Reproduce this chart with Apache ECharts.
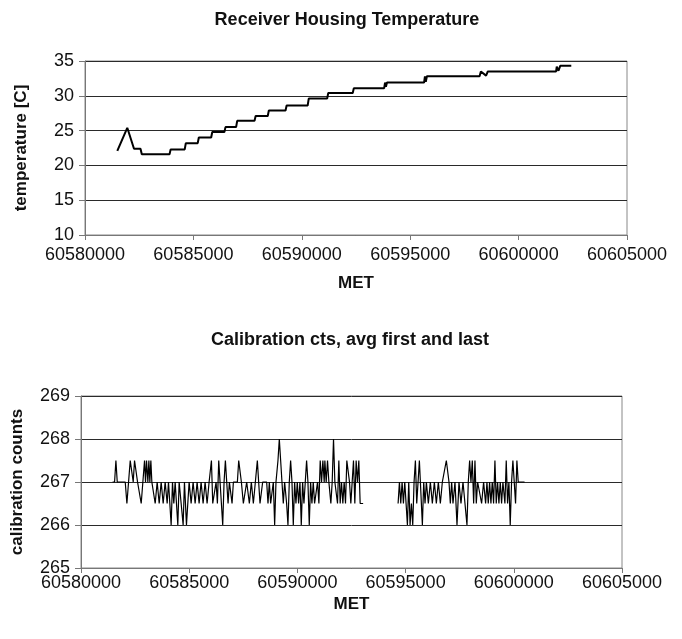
<!DOCTYPE html>
<html>
<head>
<meta charset="utf-8">
<script src="https://cdn.jsdelivr.net/npm/echarts@6/dist/echarts.min.js"></script>
<style>
html,body{margin:0;padding:0;background:#fff;}
#chart{width:682px;height:639px;}
</style>
</head>
<body>
<div id="chart"></div>
<script>
// ---- Data ----
var xTicks = [60580000, 60585000, 60590000, 60595000, 60600000, 60605000];
var tempTicks = [10, 15, 20, 25, 30, 35];
var calTicks = [265, 266, 267, 268, 269];

// Receiver housing temperature: MET, temperature [C]
var tempTime = [60581490,60581950,60582260,60582560,60582620,60583900,60583950,60584600,60584650,60585200,
  60585250,60585820,60585870,60586430,60586480,60586970,60587020,60587820,60587870,60588430,
  60588480,60589250,60589300,60590270,60590320,60591170,60591220,60592350,60592400,60593800,
  60593840,60593880,60593930,60595640,60595680,60595720,60595770,60598200,60598260,60598500,
  60598580,60601730,60601760,60601840,60601920,60602430];
var tempVal = [22.1,25.4,22.4,22.4,21.6,21.6,22.3,22.3,23.2,23.2,
  24.0,24.0,24.8,24.8,25.5,25.5,26.4,26.4,27.1,27.1,
  27.9,27.9,28.6,28.6,29.6,29.6,30.4,30.4,31.1,31.1,
  31.9,31.3,31.9,31.9,32.8,32.0,32.8,32.8,33.5,32.9,
  33.5,33.5,34.2,33.6,34.3,34.3];

// Calibration counts, first segment
var calTime1 = [60581459,60581552,60581613,60581675,60582044,60582121,60582198,60582275,60582351,60582413,
  60582474,60582551,60582613,60582705,60582782,60582859,60582936,60582982,60583028,60583090,
  60583136,60583182,60583228,60583274,60583351,60583428,60583520,60583613,60583705,60583797,
  60583889,60583982,60584043,60584105,60584166,60584228,60584289,60584351,60584412,60584474,
  60584535,60584628,60584720,60584781,60584874,60584935,60584997,60585089,60585181,60585274,
  60585366,60585458,60585550,60585643,60585735,60585827,60585920,
  60586027,60586088,60586180,60586242,60586303,60586365,60586426,60586488,60586549,60586611,
  60586672,60586734,60586796,60586857,60586919,60586980,60587042,60587134,60587226,60587288,
  60587349,60587411,60587503,60587595,60587657,60587718,60587780,60587872,60587965,60588057,
  60588149,60588210,60588272,60588349,60588395,60588487,60588580,60588641,60588703,60588764,
  60588826,60588887,60588949,60589010,60589102,60589164,60589226,60589287,60589349,60589410,
  60589502,60589564,60589625,60589687,60589749,60589810,60589872,60589933,60589995,60590056,
  60590118,60590179,60590241,60590302,60590364,60590425,60590487,60590548,60590610,60590671,
  60590733,60590794,
  60590870,60590931,60590993,60591054,60591116,60591177,60591239,60591269,60591331,60591392,
  60591454,60591546,60591608,60591669,60591731,60591792,60591854,60591915,60591977,60592038,
  60592100,60592161,60592223,60592284,60592346,60592408,60592469,60592531,60592592,60592654,
  60592715,60592777,60592838,60592900,60592961,60593038];
var calVal1 = [267,267,267.5,267,267,266.5,267,267.5,267.5,267,
  267.5,267.5,267,267,266.5,267,267.5,267,267.5,267,
  267.5,267,267.5,267,267,266.5,267,266.5,267,266.5,
  267,266.5,267,266.5,266,267,266.5,267,266.5,266,
  267,266.5,266,267,266,266.5,267,266.5,267,266.5,
  267,266.5,267,266.5,267,266.5,267,
  267.5,266.5,266.5,267,266.5,267.5,267,266.5,266,267,
  267.5,267,266.5,267,267,266.5,267,267,267,267.5,
  267.5,267,266.5,266.5,267,267,266.5,267,266.5,267,
  267.5,267,266.5,266.5,267,267,267,266.5,267,266.5,
  266.5,267,266,267,267.5,268,267.5,267,266.5,267,
  266.5,266,267,267.5,267,266,267,266.5,267,266.5,
  267,266,267,266.5,267,267.5,267,266,267,266.5,
  267,266.5,
  266.5,267,266.5,267.5,267,267.5,267,267.5,267,267.5,
  267,266.5,267,268,267,267,266.5,267.5,266.5,267,
  266.5,267,266.5,267.5,267.5,267,266.5,267,267.5,266.5,
  267.5,267,267.5,266.5,266.5,266.5];

// Calibration counts, second segment
var calTime2 = [60594653,60594715,60594776,60594838,60594899,60594961,60595022,60595084,60595145,60595207,
  60595268,60595330,60595391,60595453,60595514,60595576,60595637,
  60595775,60595837,60595898,60595960,60596052,60596144,60596236,60596329,60596421,60596513,
  60596606,60596698,60596790,60596882,60596944,60597005,60597067,60597128,60597190,60597282,
  60597375,60597467,60597559,60597652,60597744,60597836,60597897,60597959,60598020,60598082,
  60598144,60598205,60598267,60598328,60598420,60598513,60598605,60598697,60598759,60598820,
  60598882,60598943,60599005,60599066,60599128,60599189,60599251,60599312,60599374,60599436,
  60599497,60599589,60599651,60599712,60599774,60599835,60599897,60599958,60600020,60600081,
  60600143,60600204,60600266,60600497];
var calVal2 = [266.5,267,266.5,267,266.5,267,266.5,266,267,266,
  266.5,266,267,267.5,266.5,267,267.5,
  266,267,266.5,267,266.5,267,266.5,267,266.5,267,
  266.5,267,267,267.5,267.5,267,266.5,267,266.5,267,
  266,267,266.5,267,266.5,266,267,267.5,267,267.5,
  266.5,267.5,266.5,267,267,266.5,267,266.5,267,266.5,
  267,266.5,267,266.5,267.5,266.5,267,266.5,267,266.5,
  267,266.5,267.5,266.5,267,266,267,267.5,267,266.5,
  267.5,267,267,267];

function zip(a, b) { var r = []; for (var i = 0; i < a.length; i++) r.push([a[i], b[i]]); return r; }

var FONT = '"Liberation Sans", Arial, sans-serif';
var gridLine = { show: true, lineStyle: { color: '#2a2a2a', width: 1 } };

function xAxisCfg(gridIndex, nameGap, margin) {
  return {
    type: 'value', gridIndex: gridIndex,
    min: xTicks[0], max: xTicks[xTicks.length - 1], interval: xTicks[1] - xTicks[0],
    name: 'MET', nameLocation: 'middle', nameGap: nameGap,
    nameTextStyle: { fontFamily: FONT, fontSize: 17, fontWeight: 'bold', color: '#111' },
    axisLine: { show: true, onZero: false, lineStyle: { color: '#777', width: 1 } },
    axisTick: { show: true, inside: false, length: 5, lineStyle: { color: '#777' } },
    axisLabel: { fontFamily: FONT, fontSize: 18, color: '#111', margin: margin, formatter: function (v) { return String(v); } },
    splitLine: { show: false }
  };
}

function yAxisCfg(gridIndex, ticks, step, name) {
  return {
    type: 'value', gridIndex: gridIndex, min: ticks[0], max: ticks[ticks.length - 1], interval: step,
    name: name, nameLocation: 'middle', nameGap: 55, nameRotate: 90,
    nameTextStyle: { fontFamily: FONT, fontSize: 17, fontWeight: 'bold', color: '#111' },
    axisLine: { show: true, lineStyle: { color: '#777' } },
    axisTick: { show: true, length: 6, lineStyle: { color: '#777' } },
    axisLabel: { fontFamily: FONT, fontSize: 18, color: '#111', margin: 11 },
    splitLine: gridLine
  };
}

var option = {
  backgroundColor: '#fff',
  animation: false,
  title: [
    { text: 'Receiver Housing Temperature', left: 342, top: 6, textAlign: 'center',
      textStyle: { fontFamily: FONT, fontSize: 18, fontWeight: 'bold', color: '#111' } },
    { text: 'Calibration cts, avg first and last', left: 345, top: 326, textAlign: 'center',
      textStyle: { fontFamily: FONT, fontSize: 18, fontWeight: 'bold', color: '#111' } }
  ],
  grid: [
    { left: 85, right: 55, top: 61, bottom: 404, show: true, borderColor: '#888', borderWidth: 1, backgroundColor: 'transparent' },
    { left: 81, right: 60, top: 396, bottom: 71, show: true, borderColor: '#888', borderWidth: 1, backgroundColor: 'transparent' }
  ],
  xAxis: [xAxisCfg(0, 40, 11), xAxisCfg(1, 28, 6)],
  yAxis: [
    yAxisCfg(0, tempTicks, 5, 'temperature [C]'),
    yAxisCfg(1, calTicks, 1, 'calibration counts')
  ],
  series: [
    { type: 'line', xAxisIndex: 0, yAxisIndex: 0, data: zip(tempTime, tempVal), showSymbol: false,
      lineStyle: { color: '#000', width: 2 } },
    { type: 'line', xAxisIndex: 1, yAxisIndex: 1, data: zip(calTime1, calVal1), showSymbol: false,
      lineStyle: { color: '#000', width: 1.2 } },
    { type: 'line', xAxisIndex: 1, yAxisIndex: 1, data: zip(calTime2, calVal2), showSymbol: false,
      lineStyle: { color: '#000', width: 1.2 } }
  ]
};

var chart = echarts.init(document.getElementById('chart'), null, { renderer: 'canvas' });
chart.setOption(option);
</script>
</body>
</html>
